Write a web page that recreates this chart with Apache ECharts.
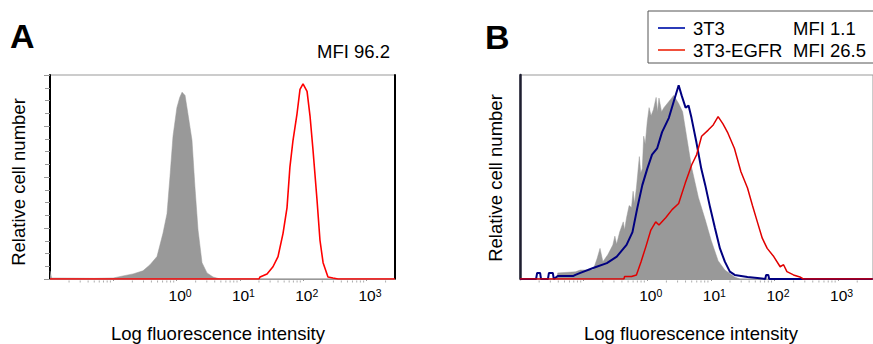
<!DOCTYPE html>
<html><head><meta charset="utf-8">
<script src="https://cdn.jsdelivr.net/npm/echarts@6/dist/echarts.min.js"></script>
<style>html,body{margin:0;padding:0;background:#fff}#c{width:873px;height:344px}</style>
</head><body><div id="c"></div>
<script>
// ---- text ----
const panelLabels = ['A', 'B'];
const mfiTextA = 'MFI 96.2';
const legendNames = ['3T3', '3T3-EGFR'];
const legendMFI = ['1.1', '26.5'];
const yTitle = 'Relative cell number';
const xTitle = 'Log fluorescence intensity';
const decadeExponents = [0, 1, 2, 3];   // labelled decades (10^0 .. 10^3)

// ---- small log-scale tick marks (2..9 in each decade) ----
const minorTickValues = [
  0.02,0.03,0.04,0.05,0.06,0.07,0.08,0.09,
  0.2,0.3,0.4,0.5,0.6,0.7,0.8,0.9,
  2,3,4,5,6,7,8,9,
  20,30,40,50,60,70,80,90,
  200,300,400,500,600,700,800,900,
  2000
];

// ---- Panel A: [intensity, relative count %] ----
const grayA = [
  [0.01,4],[0.0106,0.5],[0.05,0.3],[0.1,0.5],[0.142,1.5],[0.205,2.5],[0.294,4],[0.38,7],
  [0.49,11],[0.61,22.5],[0.705,32],[0.785,50],[0.877,70],[1.01,84],[1.12,89],[1.22,91.6],
  [1.36,90],[1.51,81],[1.75,68],[1.95,45],[2.18,24],[2.52,8],[3.02,3],[3.76,1],[4.85,0],[2800,0]
];
const redA = [
  [0.01,0],[20,0],[20.8,1],[26.8,2.5],[33.3,6],[40,11],[48,22.4],[55.5,35],[61.7,55],[69,68],
  [79.8,81],[89,93],[99.3,95.6],[115,92],[128,80],[143,63],[165,39],[184,19],[206,8],[246,1],
  [295,0.5],[355,0],[2800,0]
];

// ---- Panel B ----
const grayB = [
  [0.01,0],[0.038,0],[0.0392,3],[0.0744,3.5],[0.0889,4.4],[0.141,4.4],[0.163,10],[0.181,15],
  [0.201,8.5],[0.241,12],[0.288,16.7],[0.31,21],[0.33,17],[0.369,23],[0.42,28],[0.44,24],
  [0.473,30],[0.52,36],[0.566,35],[0.6,43],[0.63,37],[0.676,44.6],[0.752,60],[0.79,52],
  [0.837,54],[0.88,70],[0.931,66],[1.0,77],[1.07,84],[1.15,80],[1.25,83],[1.38,89],[1.45,82],
  [1.53,88.7],[1.68,82],[1.83,84],[2.19,87],[2.61,90],[3.12,86],[3.6,82],[4.15,70],[4.96,55],
  [6.37,40],[8.17,29],[10.1,19],[13.0,9],[16.6,4.4],[23.7,1],[28.4,0]
];
const blueB = [
  [0.01,0],[0.0179,0],[0.0186,3],[0.0207,3],[0.0214,0],[0.0275,0],[0.0285,3],[0.0328,3],[0.034,0],
  [0.0392,1.5],[0.0693,1.5],[0.0744,2],[0.0889,3],[0.141,5.4],[0.232,7.8],[0.332,11],[0.473,16.7],
  [0.586,23],[0.7,35],[0.837,46],[1.0,54],[1.19,61],[1.43,64],[1.71,72],[2.19,79],[2.61,87],
  [3.12,95],[3.47,90],[4.01,84],[4.46,85],[4.96,79],[5.93,67],[7.08,54],[8.17,46],[9.75,35],
  [11.6,25],[13.9,15],[16.6,8.5],[19.9,3.6],[23.7,2],[37.7,1],[53.8,0.5],[71.6,0],[74,2],[80,2],
  [82.6,0],[3500,0]
];
const redB = [
  [0.01,0],[0.43,0],[0.441,1.2],[0.566,1.2],[0.676,2],[0.8,8.5],[0.955,16],[1.14,24],[1.36,28],
  [1.53,26.5],[1.95,30],[2.46,34],[3.12,37],[3.96,47],[5.01,56],[5.99,61],[7.16,70],[9.08,73],
  [10.9,75.5],[13.0,79.6],[15.5,76],[18.5,71.6],[23.5,64],[29.7,52.6],[37.7,44.6],[45.1,36],
  [53.8,28],[64.3,20],[76.9,15],[97.5,11],[123,6],[139,7],[157,3.6],[199,2],[251,1],[284,0],[3500,0]
];

// ---- rendering ----
const FONT = "'Liberation Sans', Arial, Helvetica, sans-serif";
const chart = echarts.init(document.getElementById('c'), null, {renderer: 'svg'});

function decadeLabel(v) {
  const e = Math.round(Math.log10(v));
  if (Math.abs(v - Math.pow(10, e)) > 1e-6 * v) return '';
  if (decadeExponents.indexOf(e) < 0) return '';
  return '{b|10}{s|' + e + '}';
}

function makeX(gridIndex, max) {
  return {
    type: 'log', logBase: 10, gridIndex: gridIndex, min: 0.01, max: max, splitNumber: 5,
    axisLine: {show: true, onZero: false, lineStyle: {color: '#999', width: 1}},
    axisTick: {show: true, length: 2, lineStyle: {color: '#999'}},
    minorTick: {show: false},
    splitLine: {show: false},
    axisLabel: {
      show: true, margin: 8, padding: [0, 0, 0, 7], formatter: decadeLabel,
      showMinLabel: false, showMaxLabel: false,
      rich: {
        b: {fontSize: 15.5, fontFamily: FONT, color: '#000', lineHeight: 17},
        s: {fontSize: 10.5, fontFamily: FONT, color: '#000', verticalAlign: 'top', lineHeight: 11}
      }
    }
  };
}

function lineSeries(name, data, xi, color, width, fill) {
  const s = {
    name: name, type: 'line', xAxisIndex: xi, yAxisIndex: xi === 0 ? 0 : 2,
    data: data, symbol: 'none', showSymbol: false, silent: true, smooth: false,
    lineStyle: {color: color, width: width},
    itemStyle: {color: color}
  };
  if (fill) s.areaStyle = {color: fill, opacity: 1};
  return s;
}

function tickSeries(xi) {
  return {
    type: 'scatter', xAxisIndex: xi, yAxisIndex: xi === 0 ? 0 : 2, silent: true, clip: false,
    data: minorTickValues.map(v => [v, 0]),
    symbol: 'rect', symbolSize: [1, 2], symbolOffset: [0, 2.5],
    itemStyle: {color: '#999'}, z: 1
  };
}

const option = {
  animation: false,
  backgroundColor: '#fff',
  grid: [
    {left: 50, top: 75, width: 345, height: 204, show: true, borderColor: '#999', borderWidth: 1, backgroundColor: 'transparent'},
    {left: 520, top: 75, width: 359, height: 204, show: true, borderColor: '#999', borderWidth: 1, backgroundColor: 'transparent'}
  ],
  xAxis: [makeX(0, 2818), makeX(1, 3540)],
  yAxis: [
    {type: 'value', gridIndex: 0, min: 0, max: 100, interval: 25,
      axisLine: {show: true, onZero: false, lineStyle: {color: '#000', width: 2}},
      axisTick: {show: true, length: 6, lineStyle: {color: '#999'}},
      minorTick: {show: true, splitNumber: 4, length: 5, lineStyle: {color: '#999'}},
      axisLabel: {show: false}, splitLine: {show: false}},
    {type: 'value', gridIndex: 0, position: 'right', min: 0, max: 100,
      axisLine: {show: true, onZero: false, lineStyle: {color: '#000', width: 2}},
      axisTick: {show: false}, axisLabel: {show: false}, splitLine: {show: false}},
    {type: 'value', gridIndex: 1, min: 0, max: 100, interval: 25,
      axisLine: {show: true, onZero: false, lineStyle: {color: '#1e1e30', width: 2.5}},
      axisTick: {show: false}, axisLabel: {show: false}, splitLine: {show: false}}
  ],
  legend: {
    show: true, orient: 'vertical', left: 648, top: 11,
    padding: [7, 10, 3, 10], itemGap: 2, itemWidth: 27, itemHeight: 2,
    icon: 'rect',
    borderColor: '#555', borderWidth: 1, backgroundColor: '#fff',
    data: [
      {name: legendNames[0], icon: 'rect', itemStyle: {color: '#2b3bb8'}},
      {name: legendNames[1], icon: 'rect', itemStyle: {color: '#f0503c'}}
    ],
    formatter: function (name) {
      const i = legendNames.indexOf(name);
      return '{n|' + name + '}{m|MFI ' + legendMFI[i] + '}';
    },
    textStyle: {
      color: '#000', fontFamily: FONT, fontSize: 18.5, lineHeight: 20,
      rich: {
        n: {width: 100, padding: [0, 0, 0, 3], fontSize: 18.5, fontFamily: FONT, color: '#000', lineHeight: 20},
        m: {fontSize: 18.5, fontFamily: FONT, color: '#000', lineHeight: 20}
      }
    },
    selectedMode: false
  },
  series: [
    tickSeries(0),
    lineSeries('Control (A)', grayA, 0, '#999', 0.5, '#999'),
    lineSeries('Stained (A)', redA, 0, '#ff0000', 1.6),
    tickSeries(1),
    lineSeries('Isotype (B)', grayB, 1, '#999', 0.5, '#999'),
    lineSeries(legendNames[0], blueB, 1, '#000080', 2),
    lineSeries(legendNames[1], redB, 1, '#e00000', 1.5)
  ],
  graphic: [
    {type: 'text', x: 10, y: 36, style: {text: panelLabels[0], font: 'bold 34px ' + FONT, fill: '#000', textAlign: 'left', textVerticalAlign: 'middle'}},
    {type: 'text', x: 485, y: 37, style: {text: panelLabels[1], font: 'bold 34px ' + FONT, fill: '#000', textAlign: 'left', textVerticalAlign: 'middle'}},
    {type: 'text', x: 317, y: 51, style: {text: mfiTextA, font: '18.5px ' + FONT, fill: '#000', textAlign: 'left', textVerticalAlign: 'middle'}},
    {type: 'text', x: 18.5, y: 182, rotation: Math.PI / 2, style: {text: yTitle, font: '18.5px ' + FONT, fill: '#000', textAlign: 'center', textVerticalAlign: 'middle'}},
    {type: 'text', x: 495.5, y: 178, rotation: Math.PI / 2, style: {text: yTitle, font: '18.5px ' + FONT, fill: '#000', textAlign: 'center', textVerticalAlign: 'middle'}},
    {type: 'text', x: 218, y: 333, style: {text: xTitle, font: '18.5px ' + FONT, fill: '#000', textAlign: 'center', textVerticalAlign: 'middle'}},
    {type: 'text', x: 691, y: 333, style: {text: xTitle, font: '18.5px ' + FONT, fill: '#000', textAlign: 'center', textVerticalAlign: 'middle'}}
  ]
};
chart.setOption(option);
</script>
</body></html>
